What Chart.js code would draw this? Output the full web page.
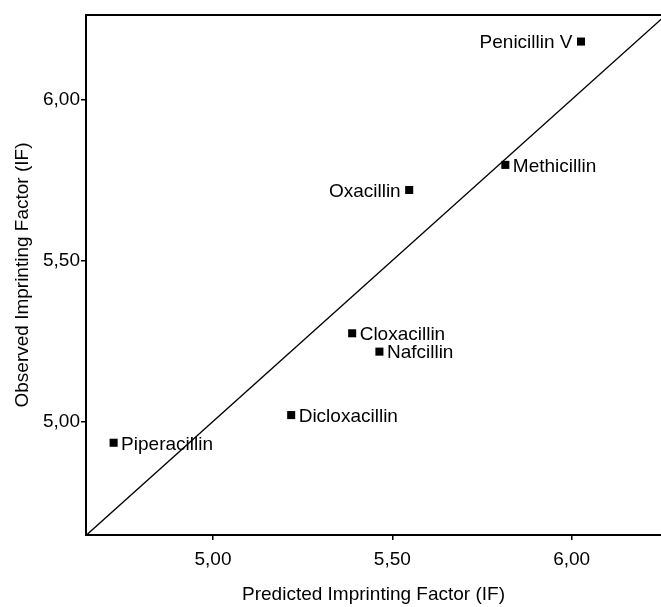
<!DOCTYPE html>
<html>
<head>
<meta charset="utf-8">
<script src="https://cdn.jsdelivr.net/npm/chart.js@4/dist/chart.umd.min.js"></script>
<style>
  html, body { margin: 0; padding: 0; background: #fff; }
  #wrap { width: 661px; height: 607px; }
</style>
</head>
<body>
<div id="wrap"><canvas id="c" width="661" height="607"></canvas></div>
<script>
// Penicillins: predicted vs. observed imprinting factor
const drugNames    = ['Penicillin V', 'Methicillin', 'Oxacillin', 'Cloxacillin', 'Nafcillin', 'Dicloxacillin', 'Piperacillin'];
const predictedIF  = [6.026, 5.815, 5.547, 5.388, 5.464, 5.218, 4.723];
const observedIF   = [6.180, 5.797, 5.719, 5.274, 5.217, 5.020, 4.934];

// Axis ticks
const xTickValues = [5.00, 5.50, 6.00];
const xTickLabels = ['5,00', '5,50', '6,00'];
const yTickValues = [5.00, 5.50, 6.00];
const yTickLabels = ['5,00', '5,50', '6,00'];

// Identity line (observed = predicted)
const identityLine = [4.6, 6.3];

const FONT = 'Arial, "Liberation Sans", sans-serif';
const FONT_SIZE = 19;
const leftLabelled = ['Penicillin V', 'Oxacillin'];

const points = drugNames.map((n, i) => ({ x: predictedIF[i], y: observedIF[i], name: n }));

// Frame line along the top of the plot area, and the drug labels beside markers
const framePlugin = {
  id: 'frameAndLabels',
  afterDatasetsDraw(chart) {
    const { ctx, chartArea, scales } = chart;
    ctx.save();
    ctx.strokeStyle = '#000';
    ctx.lineWidth = 2;
    ctx.beginPath();
    ctx.moveTo(chartArea.left - 1, chartArea.top);
    ctx.lineTo(chartArea.right, chartArea.top);
    ctx.stroke();

    ctx.fillStyle = '#000';
    ctx.font = FONT_SIZE + 'px ' + FONT;
    ctx.textBaseline = 'alphabetic';
    const capHalf = FONT_SIZE * 0.716 / 2;
    points.forEach(p => {
      const px = scales.x.getPixelForValue(p.x);
      const py = scales.y.getPixelForValue(p.y);
      if (leftLabelled.includes(p.name)) {
        ctx.textAlign = 'right';
        ctx.fillText(p.name, px - 8.5, py + capHalf);
      } else {
        ctx.textAlign = 'left';
        ctx.fillText(p.name, px + 7.5, py + capHalf);
      }
    });
    ctx.restore();
  }
};

new Chart(document.getElementById('c'), {
  type: 'scatter',
  data: {
    datasets: [
      {
        label: 'Antibiotics',
        data: points,
        pointStyle: 'rect',
        pointRadius: 5.7,
        pointHoverRadius: 5.7,
        backgroundColor: '#000',
        borderWidth: 0
      },
      {
        label: 'Identity',
        type: 'line',
        data: identityLine.map(v => ({ x: v, y: v })),
        borderColor: '#000',
        borderWidth: 1.3,
        pointRadius: 0,
        fill: false
      }
    ]
  },
  options: {
    responsive: false,
    animation: false,
    devicePixelRatio: 1,
    layout: { autoPadding: false, padding: { top: 15, right: 0, bottom: 0, left: 0 } },
    plugins: {
      legend: { display: false },
      tooltip: { enabled: false }
    },
    scales: {
      x: {
        type: 'linear',
        min: 4.646,
        max: 6.249,
        afterFit(scale) {
          scale.height = 72;
          scale.paddingLeft = 0;
          scale.paddingRight = 0;
        },
        afterBuildTicks(scale) { scale.ticks = xTickValues.map(v => ({ value: v })); },
        ticks: {
          color: '#000',
          font: { family: FONT, size: FONT_SIZE },
          padding: 8,
          maxRotation: 0,
          callback: (v) => xTickLabels[xTickValues.indexOf(v)]
        },
        grid: { drawOnChartArea: false, drawTicks: true, tickLength: 5, color: '#000', lineWidth: 1.5 },
        border: { display: true, color: '#000', width: 2 },
        title: {
          display: true,
          text: 'Predicted Imprinting Factor (IF)',
          color: '#000',
          font: { family: FONT, size: FONT_SIZE },
          padding: { top: 0, bottom: 1 }
        }
      },
      y: {
        type: 'linear',
        min: 4.6475,
        max: 6.2625,
        afterFit(scale) {
          scale.width = 86;
          scale.paddingTop = 0;
          scale.paddingBottom = 0;
        },
        afterBuildTicks(scale) { scale.ticks = yTickValues.map(v => ({ value: v })); },
        ticks: {
          color: '#000',
          font: { family: FONT, size: FONT_SIZE },
          padding: 1,
          callback: (v) => yTickLabels[yTickValues.indexOf(v)]
        },
        grid: { drawOnChartArea: false, drawTicks: true, tickLength: 5, color: '#000', lineWidth: 1.5 },
        border: { display: true, color: '#000', width: 2 },
        title: {
          display: true,
          text: 'Observed Imprinting Factor (IF)',
          color: '#000',
          font: { family: FONT, size: FONT_SIZE },
          padding: { top: 11, bottom: 0 }
        }
      }
    }
  },
  plugins: [framePlugin]
});
</script>
</body>
</html>
